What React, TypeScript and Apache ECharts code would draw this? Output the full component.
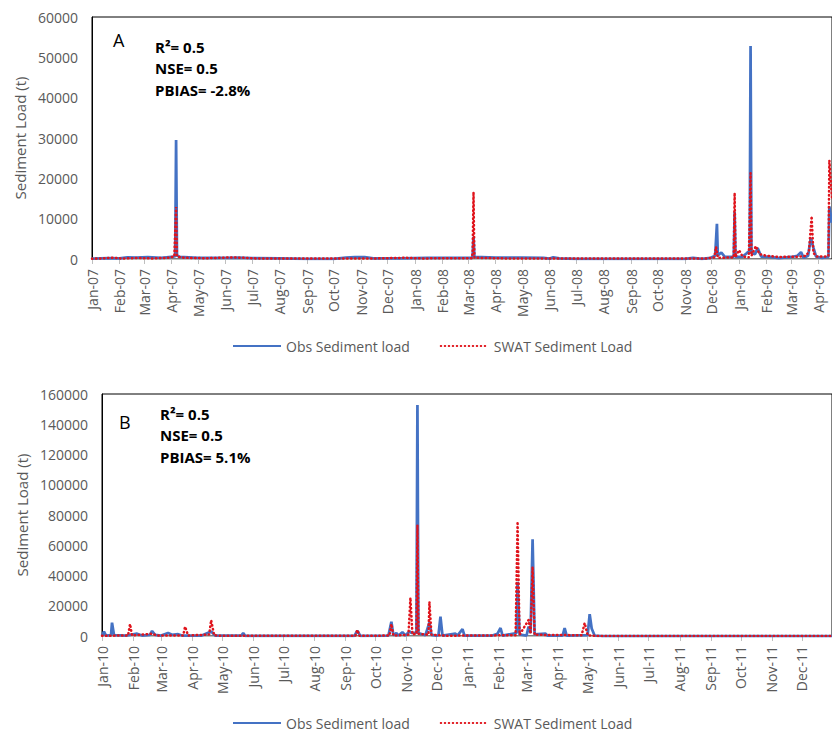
import React, { useEffect, useRef } from "react";
import * as echarts from "echarts";

// ---------- DATA ----------
const MONTHS = ["Jan", "Feb", "Mar", "Apr", "May", "Jun", "Jul", "Aug", "Sep", "Oct", "Nov", "Dec"];
const SERIES_NAMES = ["Obs Sediment load", "SWAT Sediment Load"];
const PANEL_LABELS = ["A", "B"];
const statsA = ["R\u00B2= 0.5", "NSE= 0.5", "PBIAS= -2.8%"];
const statsB = ["R\u00B2= 0.5", "NSE= 0.5", "PBIAS= 5.1%"];
const yTicksA = { min: 0, max: 60000, interval: 10000 };
const yTicksB = { min: 0, max: 160000, interval: 20000 };
const rangeA = ["2007-01-01", "2009-04-16"];
const rangeB = ["2010-01-01", "2011-12-31"];

const obsA: [string, number][] = [
  ["2007-01-01", 100], ["2007-01-20", 200], ["2007-02-01", 150], ["2007-02-10", 400],
  ["2007-02-20", 350], ["2007-03-05", 450], ["2007-03-20", 300], ["2007-04-01", 500],
  ["2007-04-05", 700], ["2007-04-06", 29500], ["2007-04-07", 900], ["2007-04-10", 500],
  ["2007-05-01", 300], ["2007-06-01", 300], ["2007-06-15", 350], ["2007-07-01", 200],
  ["2007-08-01", 150], ["2007-09-01", 50], ["2007-10-01", 50], ["2007-10-15", 350],
  ["2007-10-25", 450], ["2007-11-05", 450], ["2007-11-15", 150], ["2007-12-15", 150],
  ["2008-01-15", 250], ["2008-02-10", 300], ["2008-03-05", 300], ["2008-03-06", 700],
  ["2008-03-07", 5500], ["2008-03-08", 500], ["2008-04-01", 350], ["2008-05-01", 350],
  ["2008-05-25", 300], ["2008-06-01", 100], ["2008-06-05", 400], ["2008-06-12", 150],
  ["2008-07-01", 50], ["2008-11-01", 50], ["2008-11-10", 250], ["2008-11-20", 50],
  ["2008-11-30", 300], ["2008-12-05", 800], ["2008-12-07", 8700], ["2008-12-08", 900],
  ["2008-12-12", 1600], ["2008-12-16", 500], ["2008-12-26", 600], ["2008-12-27", 11700],
  ["2008-12-28", 500], ["2009-01-05", 600], ["2009-01-10", 1500], ["2009-01-13", 2000],
  ["2009-01-14", 52800], ["2009-01-15", 1500], ["2009-01-19", 1200], ["2009-01-22", 2700],
  ["2009-01-26", 600], ["2009-02-05", 500], ["2009-02-15", 200], ["2009-03-01", 500],
  ["2009-03-08", 800], ["2009-03-12", 1700], ["2009-03-15", 300], ["2009-03-20", 800],
  ["2009-03-23", 5200], ["2009-03-26", 2800], ["2009-03-29", 600], ["2009-04-05", 300],
  ["2009-04-12", 500], ["2009-04-13", 13000], ["2009-04-16", 9000],
];

const swatA: [string, number][] = [
  ["2007-01-01", 50], ["2007-01-25", 300], ["2007-02-05", 100], ["2007-02-20", 250],
  ["2007-03-10", 150], ["2007-03-28", 300], ["2007-04-04", 600], ["2007-04-06", 12900],
  ["2007-04-07", 600], ["2007-04-15", 300], ["2007-05-10", 200], ["2007-06-10", 400],
  ["2007-06-20", 300], ["2007-07-10", 100], ["2007-10-20", 100], ["2007-11-20", 150],
  ["2007-12-20", 300], ["2008-01-10", 150], ["2008-03-05", 200], ["2008-03-06", 1500],
  ["2008-03-07", 16600], ["2008-03-08", 300], ["2008-04-10", 150], ["2008-11-25", 100],
  ["2008-12-04", 400], ["2008-12-06", 3000], ["2008-12-08", 300], ["2008-12-26", 400],
  ["2008-12-27", 16400], ["2008-12-28", 500], ["2009-01-01", 2200], ["2009-01-05", 600],
  ["2009-01-12", 400], ["2009-01-14", 21300], ["2009-01-15", 800], ["2009-01-20", 3200],
  ["2009-01-24", 1200], ["2009-02-01", 800], ["2009-02-15", 500], ["2009-03-10", 600],
  ["2009-03-18", 800], ["2009-03-21", 2000], ["2009-03-24", 10600], ["2009-03-26", 1500],
  ["2009-03-30", 600], ["2009-04-08", 600], ["2009-04-12", 800], ["2009-04-13", 24500],
  ["2009-04-16", 15000],
];

const obsB: [string, number][] = [
  ["2010-01-01", 300], ["2010-01-03", 2800], ["2010-01-05", 300], ["2010-01-10", 500],
  ["2010-01-11", 8800], ["2010-01-13", 500], ["2010-01-25", 300], ["2010-02-05", 1500],
  ["2010-02-10", 300], ["2010-02-18", 800], ["2010-02-20", 3300], ["2010-02-23", 800],
  ["2010-03-01", 300], ["2010-03-08", 2000], ["2010-03-12", 800], ["2010-03-18", 1200],
  ["2010-03-22", 300], ["2010-04-10", 200], ["2010-04-20", 3000], ["2010-04-24", 300],
  ["2010-05-20", 200], ["2010-05-22", 2000], ["2010-05-24", 100], ["2010-09-10", 100],
  ["2010-09-13", 3500], ["2010-09-16", 100], ["2010-10-14", 200], ["2010-10-17", 9400],
  ["2010-10-19", 300], ["2010-10-22", 2000], ["2010-10-24", 300], ["2010-10-28", 2500],
  ["2010-10-31", 300], ["2010-11-04", 3000], ["2010-11-06", 2000], ["2010-11-11", 2000],
  ["2010-11-12", 152700], ["2010-11-13", 2000], ["2010-11-20", 500], ["2010-11-24", 9000],
  ["2010-11-26", 800], ["2010-12-01", 300], ["2010-12-03", 500], ["2010-12-05", 12800],
  ["2010-12-07", 300], ["2010-12-20", 1500], ["2010-12-22", 300], ["2010-12-27", 4500],
  ["2010-12-29", 200], ["2011-01-25", 200], ["2011-01-31", 1500], ["2011-02-03", 5300],
  ["2011-02-05", 200], ["2011-02-19", 2000], ["2011-02-20", 35900], ["2011-02-22", 1000],
  ["2011-03-01", 300], ["2011-03-03", 6200], ["2011-03-05", 2000], ["2011-03-07", 63900],
  ["2011-03-09", 1000], ["2011-03-20", 1500], ["2011-03-22", 200], ["2011-04-06", 200],
  ["2011-04-08", 5300], ["2011-04-10", 200], ["2011-05-01", 500], ["2011-05-03", 14500],
  ["2011-05-05", 5000], ["2011-05-08", 200], ["2011-05-15", 0], ["2011-12-31", 0],
];

const swatB: [string, number][] = [
  ["2010-01-01", 200], ["2010-01-27", 300], ["2010-01-29", 7900], ["2010-01-31", 300],
  ["2010-02-20", 1500], ["2010-02-25", 300], ["2010-03-23", 300], ["2010-03-25", 6200],
  ["2010-03-28", 300], ["2010-04-18", 1000], ["2010-04-20", 10500], ["2010-04-23", 500],
  ["2010-05-01", 100], ["2010-09-11", 100], ["2010-09-13", 4000], ["2010-09-15", 100],
  ["2010-10-15", 300], ["2010-10-17", 7900], ["2010-10-19", 300], ["2010-11-03", 800],
  ["2010-11-05", 25300], ["2010-11-07", 1000], ["2010-11-11", 1500], ["2010-11-12", 73400],
  ["2010-11-13", 1500], ["2010-11-23", 800], ["2010-11-24", 22700], ["2010-11-26", 800],
  ["2010-12-10", 200], ["2011-02-18", 500], ["2011-02-20", 75600], ["2011-02-22", 800],
  ["2011-03-03", 10600], ["2011-03-05", 1500], ["2011-03-07", 45800], ["2011-03-09", 800],
  ["2011-04-25", 500], ["2011-04-28", 8600], ["2011-05-01", 500], ["2011-05-05", 200],
  ["2011-05-15", 0], ["2011-12-31", 0],
];

// ---------- STYLE ----------
const FONT = "'Open Sans', 'Liberation Sans', sans-serif";
const GRAY = "#595959";
const BLUE = "#4472C4";
const RED = "#E0141C";
const DAY = 86400000;

function toTs(s: string) {
  const [y, m, d] = s.split("-").map(Number);
  return new Date(y, m - 1, d).getTime();
}
function fmtMonth(v: number) {
  const d = new Date(v);
  return MONTHS[d.getMonth()] + "-" + String(d.getFullYear()).slice(2);
}
const toPts = (arr: [string, number][]) => arr.map(([d, v]) => [toTs(d), v]);

function xAxisCfg(gridIndex: number, range: string[]) {
  return {
    type: "time",
    gridIndex,
    min: toTs(range[0]),
    max: toTs(range[1]),
    minInterval: 28 * DAY,
    maxInterval: 31 * DAY,
    splitNumber: 30,
    axisLine: { show: true, lineStyle: { color: "#BFBFBF", width: 1 } },
    axisTick: { show: true, length: 5, lineStyle: { color: "#BFBFBF" } },
    axisLabel: {
      rotate: 90,
      margin: 10,
      fontSize: 14,
      color: GRAY,
      fontFamily: FONT,
      formatter: (v: number) => fmtMonth(v),
      showMaxLabel: false,
      hideOverlap: false,
      interval: 0,
    },
    splitLine: { show: false },
  };
}

function yAxisCfg(gridIndex: number, t: { min: number; max: number; interval: number }, gap: number) {
  return {
    type: "value",
    gridIndex,
    min: t.min,
    max: t.max,
    interval: t.interval,
    name: "Sediment Load (t)",
    nameLocation: "middle",
    nameGap: gap,
    nameTextStyle: { fontSize: 15, color: GRAY, fontFamily: FONT },
    axisLine: { show: true, lineStyle: { color: "#000", width: 1 } },
    axisTick: { show: false },
    axisLabel: {
      fontSize: 14,
      color: GRAY,
      fontFamily: FONT,
      margin: 14,
      formatter: (v: number) => String(v),
    },
    splitLine: { show: false },
  };
}

function lineSeries(name: string, idx: number, data: [string, number][], dotted: boolean) {
  return {
    type: "line",
    name,
    xAxisIndex: idx,
    yAxisIndex: idx,
    data: toPts(data),
    symbol: "none",
    showSymbol: false,
    lineStyle: dotted
      ? { color: RED, width: 2.5, type: [0.5, 3.5], cap: "round" }
      : { color: BLUE, width: 2.75 },
    itemStyle: { color: dotted ? RED : BLUE },
    z: dotted ? 3 : 2,
  };
}

function statTexts(lines: string[], left: number, top: number) {
  return lines.map((t, i) => ({
    type: "text",
    left,
    top: top + i * 21.5,
    style: { text: t, fontSize: 15, fontWeight: "bold", fill: "#000", fontFamily: FONT },
  }));
}

export default function App() {
  const ref = useRef<HTMLDivElement>(null);
  useEffect(() => {
    if (!ref.current) return;
    const chart = echarts.init(ref.current, null, { renderer: "svg" });
    const legendCommon = {
      data: SERIES_NAMES,
      itemWidth: 48,
      itemHeight: 14,
      itemGap: 30,
      itemStyle: { opacity: 0 },
      textStyle: { fontSize: 14, color: GRAY, fontFamily: FONT },
    };
    chart.setOption({
      animation: false,
      backgroundColor: "#fff",
      grid: [
        { left: 92, top: 17, width: 740.5, height: 242, show: true, borderColor: "#000", borderWidth: 1, backgroundColor: "transparent" },
        { left: 102, top: 394, width: 735, height: 242, show: true, borderColor: "#000", borderWidth: 1, backgroundColor: "transparent" },
      ],
      xAxis: [xAxisCfg(0, rangeA), xAxisCfg(1, rangeB)],
      yAxis: [yAxisCfg(0, yTicksA, 55), yAxisCfg(1, yTicksB, 64)],
      legend: [
        { ...legendCommon, left: 227, top: 334 },
        { ...legendCommon, left: 227, top: 711 },
      ],
      series: [
        lineSeries(SERIES_NAMES[0], 0, obsA, false),
        lineSeries(SERIES_NAMES[1], 0, swatA, true),
        lineSeries(SERIES_NAMES[0], 1, obsB, false),
        lineSeries(SERIES_NAMES[1], 1, swatB, true),
      ],
      graphic: [
        { type: "text", left: 113, top: 31, style: { text: PANEL_LABELS[0], fontSize: 18, fill: "#000", fontFamily: FONT } },
        { type: "text", left: 119, top: 413, style: { text: PANEL_LABELS[1], fontSize: 18, fill: "#000", fontFamily: FONT } },
        ...statTexts(statsA, 155, 39),
        ...statTexts(statsB, 160, 406),
      ],
    });
    return () => chart.dispose();
  }, []);
  return (
    <div
      ref={ref}
      style={{ position: "absolute", left: 0, top: 0, width: 832, height: 733, overflow: "hidden" }}
    />
  );
}
